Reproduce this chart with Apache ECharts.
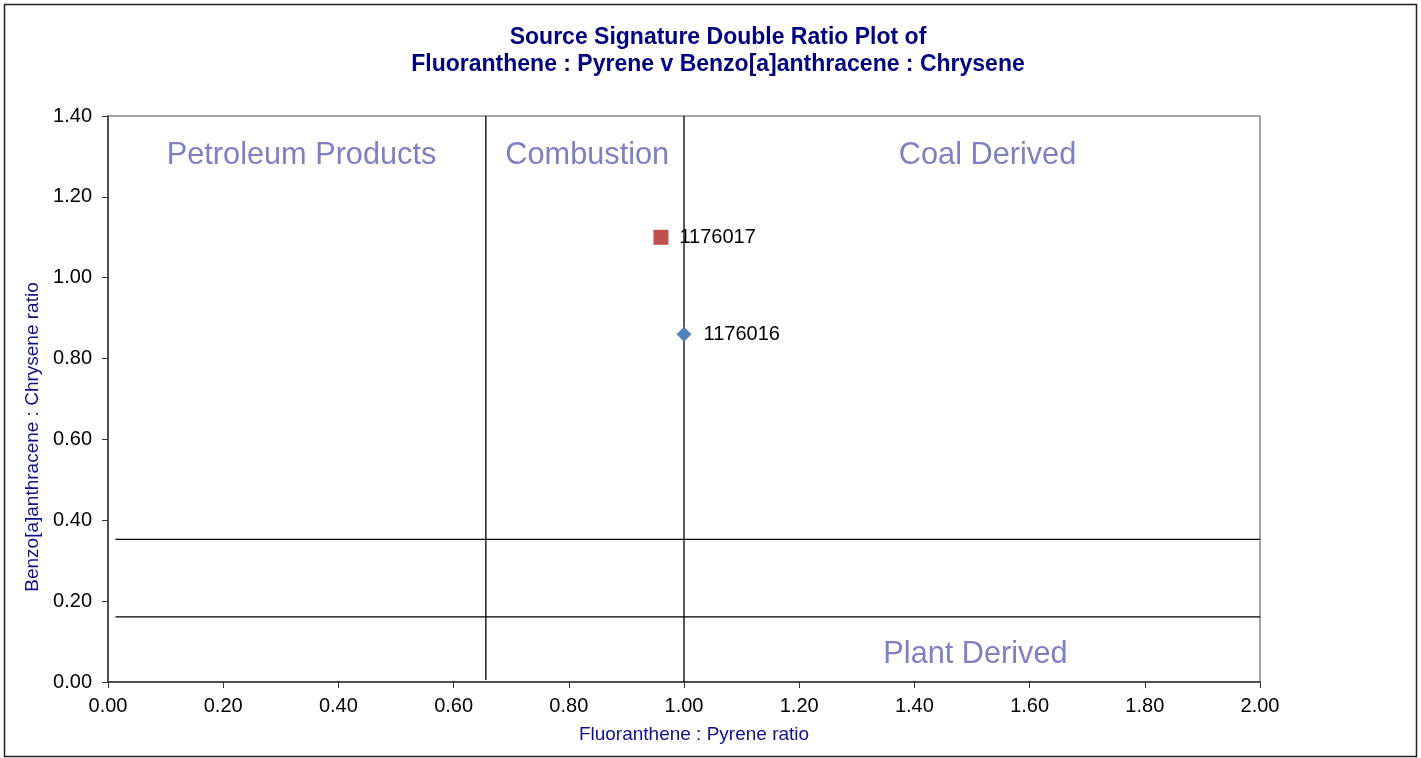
<!DOCTYPE html>
<html>
<head>
<meta charset="utf-8">
<script src="https://cdn.jsdelivr.net/npm/echarts@6/dist/echarts.min.js"></script>
<style>
  html, body { margin: 0; padding: 0; background: #fff; }
  #chart { width: 1421px; height: 758px; }
</style>
</head>
<body>
<div id="chart"></div>
<script>
// Sample ratios
const sampleIds = ['1176016', '1176017'];
const fluorPyrene = [1.00, 0.96];
const benzChrys = [0.86, 1.10];
const sampleColors = ['#4F81BD', '#C0504D'];
const sampleSymbols = ['diamond', 'rect'];

// Source region boundaries
const xBoundaryLow = 0.656;
const xBoundaryHigh = 1.00;
const yBoundaryHigh = 0.353;
const yBoundaryLow = 0.161;

// Region names and their anchor points
const regionNames = ['Petroleum Products', 'Combustion', 'Coal Derived', 'Plant Derived'];
const regionX = [0.336, 0.832, 1.527, 1.506];
const regionY = [1.302, 1.302, 1.302, 0.067];

const xTicks = { min: 0, max: 2, interval: 0.2 };
const yTicks = { min: 0, max: 1.4, interval: 0.2 };

const FONT = '"Liberation Sans", Arial, sans-serif';
const NAVY = '#10108A';

function boundaryLine(points) {
  return {
    type: 'line',
    data: points,
    symbol: 'none',
    silent: true,
    lineStyle: { color: '#000', width: 1.3 },
    z: 2
  };
}

const series = [
  boundaryLine([[xBoundaryLow, 0.005], [xBoundaryLow, yTicks.max]]),
  boundaryLine([[xBoundaryHigh, yTicks.min], [xBoundaryHigh, yTicks.max]]),
  boundaryLine([[0.013, yBoundaryHigh], [xTicks.max, yBoundaryHigh]]),
  boundaryLine([[0.013, yBoundaryLow], [xTicks.max, yBoundaryLow]]),
  {
    type: 'scatter',
    silent: true,
    symbolSize: 0,
    itemStyle: { opacity: 1 },
    data: regionNames.map((n, i) => ({ value: [regionX[i], regionY[i]], name: n })),
    label: {
      show: true,
      position: 'inside',
      formatter: p => p.name,
      color: '#7F7FC4',
      opacity: 1,
      fontFamily: FONT,
      fontSize: 30.7
    },
    z: 1
  }
];

sampleIds.forEach((id, i) => {
  series.push({
    type: 'scatter',
    name: id,
    symbol: sampleSymbols[i],
    symbolSize: i === 0 ? 15 : 15,
    data: [[fluorPyrene[i], benzChrys[i]]],
    itemStyle: { color: sampleColors[i], opacity: 1 },
    label: {
      show: true,
      position: 'right',
      distance: i === 0 ? 12 : 11,
      formatter: id,
      color: '#000',
      opacity: 1,
      fontFamily: FONT,
      fontSize: 20
    },
    z: 5
  });
});

const chart = echarts.init(document.getElementById('chart'), null, { renderer: 'canvas' });
chart.setOption({
  backgroundColor: '#fff',
  animation: false,
  title: {
    text: 'Source Signature Double Ratio Plot of\nFluoranthene : Pyrene v Benzo[a]anthracene : Chrysene',
    left: 713,
    textAlign: 'center',
    top: 19,
    textStyle: {
      fontFamily: FONT,
      fontSize: 23,
      fontWeight: 'bold',
      color: '#000080',
      lineHeight: 27
    }
  },
  graphic: [{
    type: 'rect',
    shape: { x: 4.5, y: 4.5, width: 1412, height: 752 },
    style: { fill: 'none', stroke: '#222', lineWidth: 1.5 },
    silent: true
  }],
  grid: {
    left: 108, right: 161, top: 116, bottom: 76,
    show: true,
    borderColor: '#888',
    borderWidth: 1.5
  },
  xAxis: {
    type: 'value',
    min: xTicks.min, max: xTicks.max, interval: xTicks.interval,
    name: 'Fluoranthene : Pyrene ratio',
    nameLocation: 'middle',
    nameGap: 43,
    nameTextStyle: { color: NAVY, fontFamily: FONT, fontSize: 19, padding: [0, 0, 0, 20] },
    axisLine: { show: true, onZero: false, lineStyle: { color: '#333', width: 1.5 } },
    axisTick: { show: true, inside: false, length: 6, lineStyle: { color: '#333' } },
    axisLabel: {
      color: '#000', fontFamily: FONT, fontSize: 20, margin: 14,
      formatter: v => v.toFixed(2)
    },
    splitLine: { show: false }
  },
  yAxis: {
    type: 'value',
    min: yTicks.min, max: yTicks.max, interval: yTicks.interval,
    name: 'Benzo[a]anthracene : Chrysene ratio',
    nameLocation: 'middle',
    nameGap: 66,
    nameRotate: 90,
    nameTextStyle: { color: NAVY, fontFamily: FONT, fontSize: 19, padding: [0, 76, 0, 0] },
    axisLine: { show: true, onZero: false, lineStyle: { color: '#333', width: 1.5 } },
    axisTick: { show: true, inside: false, length: 6, lineStyle: { color: '#333' } },
    axisLabel: {
      color: '#000', fontFamily: FONT, fontSize: 20, margin: 16,
      formatter: v => v.toFixed(2)
    },
    splitLine: { show: false }
  },
  series: series
});
</script>
</body>
</html>
